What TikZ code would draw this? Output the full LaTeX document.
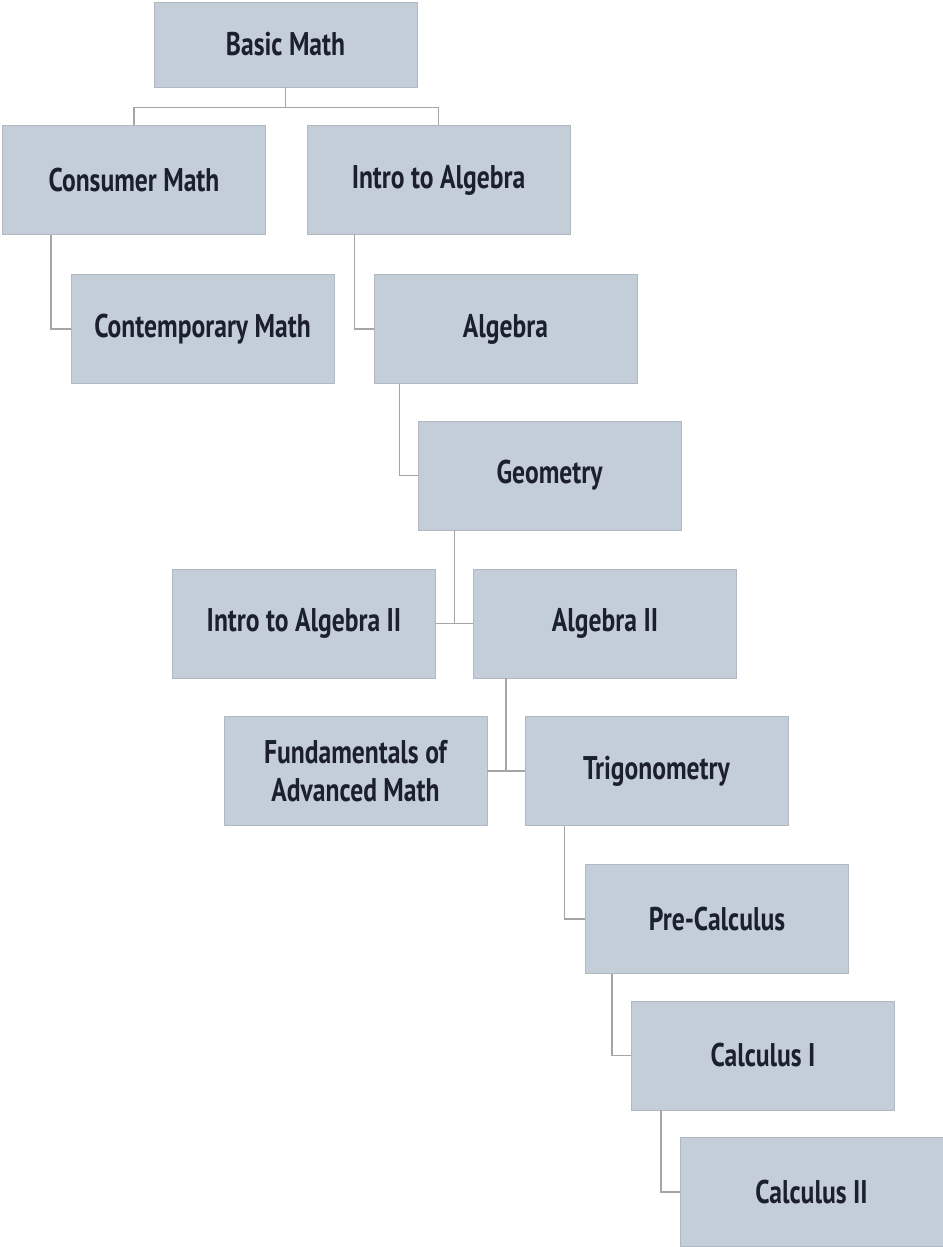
\documentclass[tikz,border=0pt]{standalone}
\usepackage{fontspec}
\setmainfont{PT Sans}[FakeStretch=0.78]
\usepackage{tikz}
\usetikzlibrary{positioning, calc}
\definecolor{boxfill}{RGB}{196,206,217}
\definecolor{boxline}{RGB}{176,184,194}
\definecolor{linkgray}{RGB}{165,165,165}
\definecolor{textnavy}{RGB}{28,32,44}
\tikzset{
	course/.style={draw=boxline, fill=boxfill, line width=0.8pt, minimum width=7.89cm, minimum height=3.27cm, inner sep=0pt, align=center, text=textnavy, font=\fontsize{28}{33}\selectfont\bfseries},
	link/.style={draw=linkgray, line width=1.2pt}
}
\begin{document}
\begin{tikzpicture}[x=0.03cm, y=-0.03cm]
	\useasboundingbox (0,0) rectangle (943,1247);
	
	\node(basic) [course, minimum height=2.55cm] at (285.5,44.5) {Basic Math};
	
	\node(consumer) [course] at (134,180) {Consumer Math};
	\node(introalg) [course] at (438.5,180) {Intro to Algebra};
	
	\node(contemp) [course] at (202.5,329) {Contemporary Math};
	\node(algebra) [course] at (505.5,329) {Algebra};
	
	\node(geometry) [course] at (549.5,475.5) {Geometry};
	
	\node(introalgii) [course] at (304,623.5) {Intro to Algebra II};
	\node(algebraii) [course] at (605,623.5) {Algebra II};
	
	\node(fundamentals) [course] at (355.5,771) {Fundamentals of\\Advanced Math};
	\node(trig) [course] at (656.5,771) {Trigonometry};
	
	\node(precalc) [course] at (717,919) {Pre-Calculus};
	\node(calci) [course] at (763,1055.5) {Calculus I};
	\node(calcii) [course] at (811.5,1192) {Calculus II};
	
	% tree links
	\draw[link] (basic.south) -- ++(0,20) -| (consumer.north);
	\draw[link] (basic.south) -- ++(0,20) -| (introalg.north);
	
	\draw[link] ($(consumer.south west)+(49,0)$) |- (contemp.west);
	\draw[link] ($(introalg.south west)+(48,0)$) |- (algebra.west);
	\draw[link] ($(algebra.south west)+(26,0)$) |- (geometry.west);
	
	\draw[link] (introalgii.east) -- (algebraii.west);
	\draw[link] ($(geometry.south west)+(37,0)$) coordinate (geolink) -- (geolink |- algebraii.west);
	
	\draw[link] (fundamentals.east) -- (trig.west);
	\draw[link] ($(algebraii.south west)+(33,0)$) coordinate (algiilink) -- (algiilink |- trig.west);
	
	\draw[link] ($(trig.south west)+(40,0)$) |- (precalc.west);
	\draw[link] ($(precalc.south west)+(27,0)$) |- (calci.west);
	\draw[link] ($(calci.south west)+(30,0)$) |- (calcii.west);
\end{tikzpicture}
\end{document}
